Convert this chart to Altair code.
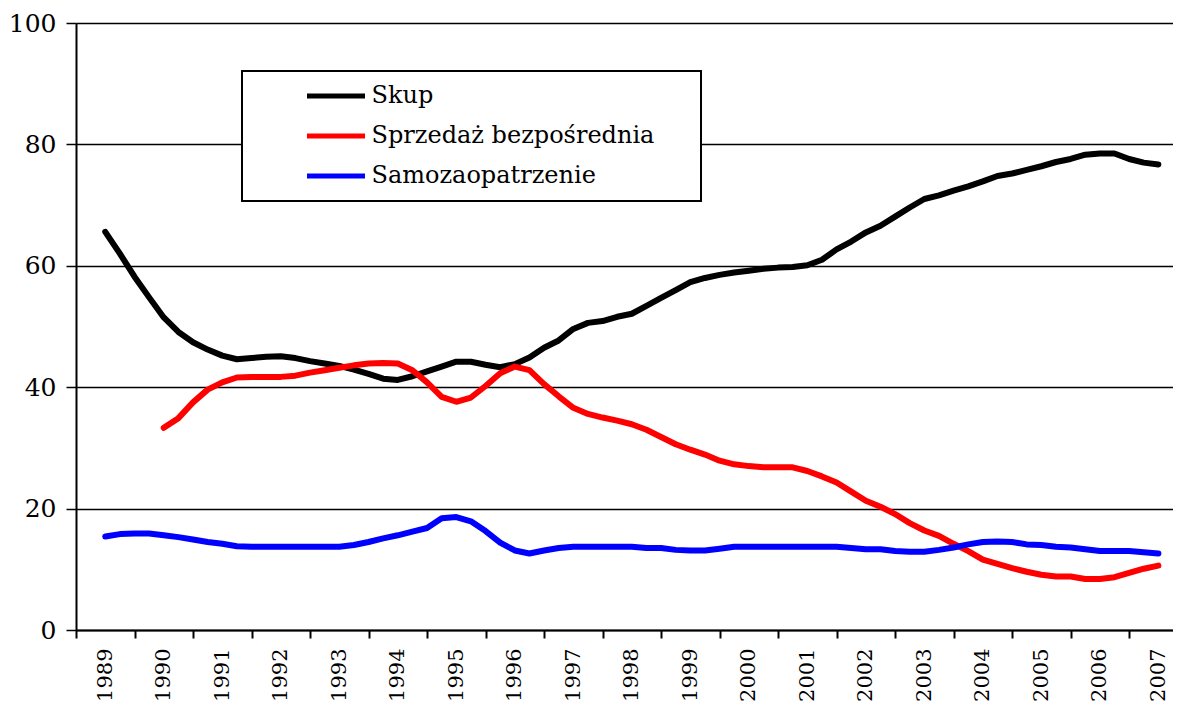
import altair as alt
import pandas as pd

# quarterly time positions (fractional years)
quarters = [1989.5 + 0.25 * k for k in range(73)]

skup = [65.6, 62.0, 58.2, 54.8, 51.5, 49.1, 47.4, 46.2, 45.2, 44.6,
        44.8, 45.0, 45.1, 44.8, 44.3, 43.9, 43.5, 42.9, 42.2, 41.4,
        41.2, 41.8, 42.6, 43.4, 44.2, 44.2, 43.7, 43.3, 43.8, 44.9,
        46.5, 47.7, 49.6, 50.6, 50.9, 51.6, 52.1, 53.4, 54.7, 56.0,
        57.3, 58.0, 58.5, 58.9, 59.2, 59.5, 59.7, 59.8, 60.1, 61.0,
        62.7, 64.0, 65.5, 66.6, 68.1, 69.6, 71.0, 71.6, 72.4, 73.1,
        73.9, 74.8, 75.2, 75.8, 76.4, 77.1, 77.6, 78.3, 78.5, 78.5,
        77.6, 77.0, 76.7]

sprzedaz = [None, None, None, None,
            33.3, 34.9, 37.5, 39.6, 40.8, 41.6, 41.7, 41.7, 41.7, 41.9,
            42.4, 42.8, 43.2, 43.6, 43.9, 44.0, 43.9, 42.8, 40.8, 38.4,
            37.6, 38.3, 40.2, 42.3, 43.4, 42.8, 40.5, 38.5, 36.6, 35.6,
            35.0, 34.5, 33.9, 33.0, 31.8, 30.6, 29.7, 28.9, 27.9, 27.3,
            27.0, 26.8, 26.8, 26.8, 26.2, 25.3, 24.3, 22.8, 21.3, 20.3,
            19.1, 17.6, 16.4, 15.5, 14.2, 13.0, 11.6, 10.9, 10.2, 9.6,
            9.1, 8.8, 8.8, 8.4, 8.4, 8.7, 9.4, 10.1, 10.6]

samozaopatrzenie = [15.4, 15.8, 15.9, 15.9, 15.6, 15.3, 14.9, 14.5, 14.2, 13.8,
                    13.7, 13.7, 13.7, 13.7, 13.7, 13.7, 13.7, 14.0, 14.5, 15.1,
                    15.6, 16.2, 16.8, 18.4, 18.6, 17.9, 16.3, 14.4, 13.1, 12.6,
                    13.1, 13.5, 13.7, 13.7, 13.7, 13.7, 13.7, 13.5, 13.5, 13.2,
                    13.1, 13.1, 13.4, 13.7, 13.7, 13.7, 13.7, 13.7, 13.7, 13.7,
                    13.7, 13.5, 13.3, 13.3, 13.0, 12.9, 12.9, 13.2, 13.6, 14.1,
                    14.5, 14.6, 14.5, 14.1, 14.0, 13.7, 13.6, 13.3, 13.0, 13.0,
                    13.0, 12.8, 12.6]

series_names = ["Skup", "Sprzedaż bezpośrednia", "Samozaopatrzenie"]
series_colors = ["#000000", "#ff0000", "#0000ff"]
year_ticks = list(range(1989, 2008))
y_ticks = [0, 20, 40, 60, 80, 100]

rows = []
for name, vals in zip(series_names, [skup, sprzedaz, samozaopatrzenie]):
    for t, v in zip(quarters, vals):
        if v is not None:
            rows.append({"t": t, "v": v, "s": name})
df = pd.DataFrame(rows)

W = 1097
H = 607
x_max = 2007.75
cat = W / (x_max - 1989)
FONT = "DejaVu Serif"

chart = (
    alt.Chart(df)
    .mark_line(strokeWidth=6, strokeCap="round", strokeJoin="round")
    .encode(
        x=alt.X(
            "t:Q",
            scale=alt.Scale(domain=[1989, x_max], nice=False, zero=False),
            axis=alt.Axis(
                values=year_ticks, format="d", title=None, grid=False,
                domainColor="black", domainWidth=2,
                tickColor="black", tickWidth=2, tickSize=8,
                labelAngle=270, labelAlign="right", labelBaseline="middle",
                labelOffset=cat / 2, labelFont=FONT, labelFontSize=21,
                labelColor="black", labelPadding=10,
                labelFlush=False, labelOverlap=False,
            ),
        ),
        y=alt.Y(
            "v:Q",
            scale=alt.Scale(domain=[0, 100], nice=False),
            axis=alt.Axis(
                values=y_ticks, title=None, grid=True,
                gridColor="black", gridWidth=1.5,
                domainColor="black", domainWidth=2,
                tickColor="black", tickWidth=1.5, tickSize=10,
                labelFont=FONT, labelFontSize=25, labelColor="black",
                labelPadding=10,
            ),
        ),
        color=alt.Color(
            "s:N",
            scale=alt.Scale(domain=series_names, range=series_colors),
            legend=alt.Legend(
                title=".", titleOpacity=0, titleOrient="right",
                titleFontSize=8, titlePadding=34,
                orient="none", legendX=166, legendY=48, direction="vertical",
                symbolType="stroke", symbolSize=3364, symbolStrokeWidth=5,
                clipHeight=30, rowPadding=10,
                symbolOffset=52.5, labelOffset=4, labelLimit=500,
                labelFont=FONT, labelFontSize=24, labelColor="black",
                padding=10, strokeColor="black", fillColor="white",
            ),
        ),
    )
    .properties(
        width=W, height=H,
        padding={"left": 0, "top": 3, "right": 0, "bottom": 0},
        background="white",
    )
    .configure_view(stroke=None)
    .configure_legend(strokeWidth=2)
)

chart.save("out.html", embed_options={"renderer": "svg", "actions": False})
